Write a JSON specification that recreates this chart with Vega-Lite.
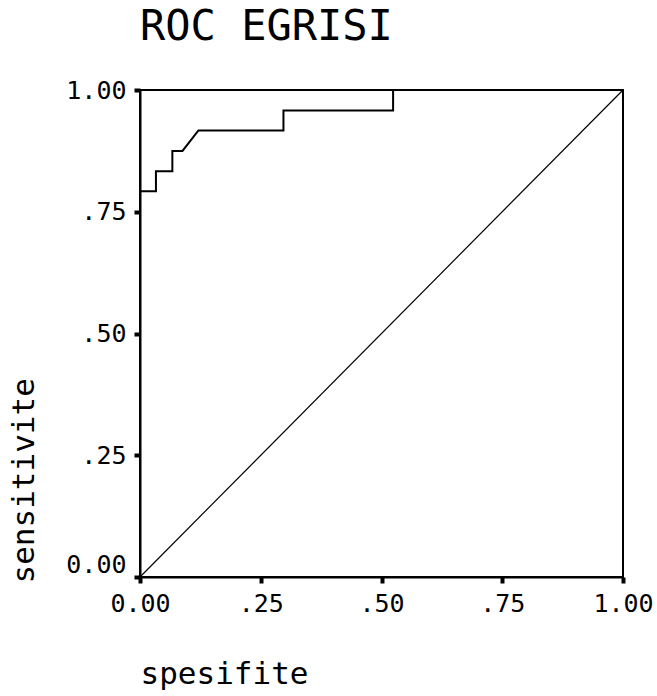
{
  "$schema": "https://vega.github.io/schema/vega-lite/v6.json",
  "width": 483,
  "height": 487,
  "autosize": {"type": "none"},
  "padding": {"left": 140, "top": 90, "right": 34, "bottom": 119},
  "background": "white",
  "title": {
    "text": "ROC EGRISI",
    "anchor": "start",
    "frame": "group",
    "font": "DejaVu Sans Mono",
    "fontSize": 42,
    "fontWeight": "normal",
    "color": "black",
    "baseline": "bottom",
    "offset": -13
  },
  "config": {
    "view": {"stroke": "black", "strokeWidth": 2},
    "axis": {
      "grid": false,
      "domainColor": "black",
      "domainWidth": 2,
      "tickColor": "black",
      "tickWidth": 4,
      "tickSize": 6,
      "labelFont": "DejaVu Sans Mono",
      "labelFontSize": 25,
      "labelColor": "black",
      "labelPadding": 8,
      "labelFlush": false,
      "titleFont": "DejaVu Sans Mono",
      "titleFontSize": 31,
      "titleFontWeight": "normal",
      "titleColor": "black"
    }
  },
  "datasets": {
    "roc": [
      {"i": 0, "fpr": 0.0, "tpr": 0.0},
      {"i": 1, "fpr": 0.0, "tpr": 0.792},
      {"i": 2, "fpr": 0.033, "tpr": 0.792},
      {"i": 3, "fpr": 0.033, "tpr": 0.833},
      {"i": 4, "fpr": 0.067, "tpr": 0.833},
      {"i": 5, "fpr": 0.067, "tpr": 0.875},
      {"i": 6, "fpr": 0.088, "tpr": 0.875},
      {"i": 7, "fpr": 0.121, "tpr": 0.917},
      {"i": 8, "fpr": 0.297, "tpr": 0.917},
      {"i": 9, "fpr": 0.297, "tpr": 0.958},
      {"i": 10, "fpr": 0.524, "tpr": 0.958},
      {"i": 11, "fpr": 0.524, "tpr": 1.0},
      {"i": 12, "fpr": 1.0, "tpr": 1.0}
    ],
    "diag": [
      {"i": 0, "fpr": 0.0, "tpr": 0.0},
      {"i": 1, "fpr": 1.0, "tpr": 1.0}
    ]
  },
  "layer": [
    {
      "data": {"name": "diag"},
      "mark": {"type": "line", "color": "black", "strokeWidth": 1.2},
      "encoding": {
        "x": {"field": "fpr", "type": "quantitative"},
        "y": {"field": "tpr", "type": "quantitative"},
        "order": {"field": "i"}
      }
    },
    {
      "data": {"name": "roc"},
      "mark": {"type": "line", "color": "black", "strokeWidth": 2},
      "encoding": {
        "x": {
          "field": "fpr",
          "type": "quantitative",
          "scale": {"domain": [0, 1], "nice": false},
          "axis": {
            "title": "spesifite",
            "values": [0, 0.25, 0.5, 0.75, 1],
            "labelExpr": "datum.value > 0 && datum.value < 1 ? slice(format(datum.value, '.2f'), 1) : format(datum.value, '.2f')",
            "titleAnchor": "start",
            "titleAlign": "left",
            "titleX": 0,
            "titleY": 106,
            "titleBaseline": "alphabetic"
          }
        },
        "y": {
          "field": "tpr",
          "type": "quantitative",
          "scale": {"domain": [0, 1], "nice": false},
          "axis": {
            "title": "sensitivite",
            "values": [0, 0.25, 0.5, 0.75, 1],
            "labelExpr": "datum.value > 0 && datum.value < 1 ? slice(format(datum.value, '.2f'), 1) : format(datum.value, '.2f')",
            "labelBaseline": {"condition": {"test": "datum.value === 0", "value": "bottom"}, "value": "middle"},
            "titleAngle": 270,
            "titleAlign": "left",
            "titleX": -107,
            "titleY": 493,
            "titleBaseline": "alphabetic"
          }
        },
        "order": {"field": "i"}
      }
    }
  ]
}
